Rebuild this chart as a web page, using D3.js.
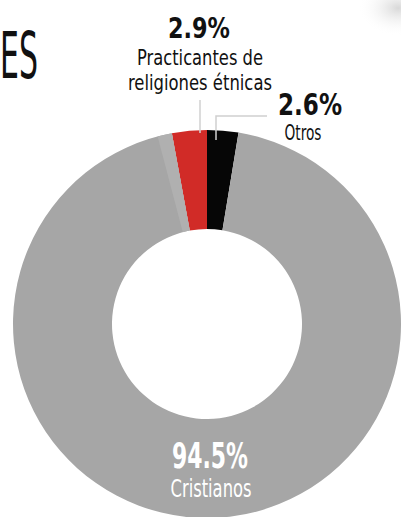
<!DOCTYPE html>
<html>
<head>
<meta charset="utf-8">
<script src="https://cdn.jsdelivr.net/npm/d3@7"></script>
<style>
  body { margin: 0; background: #fff; }
  svg { display: block; }
  text { font-family: "Liberation Sans Narrow", "DejaVu Sans Condensed", "Roboto", sans-serif; }
</style>
</head>
<body>
<div id="chart"></div>
<script>
// religion shares, in percent
const categories = ["Practicantes de religiones étnicas", "Otros", "Cristianos"];
const values = [2.9, 2.6, 94.5];
const pctLabels = ["2.9%", "2.6%", "94.5%"];

const W = 401, H = 517;
const cx = 207, cy = 324;
const outerR = 194, innerR = 95;

let svg = d3.select("div#chart")
    .append("svg")
    .attr("width", W)
    .attr("height", H);

// faint smudge in top-right corner
let defs = svg.append("defs");
let grad = defs.append("radialGradient").attr("id", "smudge");
grad.append("stop").attr("offset", "0%").attr("stop-color", "#d8d8d8");
grad.append("stop").attr("offset", "100%").attr("stop-color", "#fff").attr("stop-opacity", 0);
svg.append("ellipse")
    .attr("cx", 398).attr("cy", 8)
    .attr("rx", 40).attr("ry", 28)
    .attr("fill", "url(#smudge)");

let color = d3.scaleOrdinal()
    .domain(categories)
    .range(["#d12b27", "#060606", "#a6a6a6"]);

// red slice ends exactly at 12 o'clock, black starts there
let total = d3.sum(values);
let start = -values[0] / total * 2 * Math.PI;
let pie = d3.pie()
    .sort(null)
    .value(d => d.value)
    .startAngle(start)
    .endAngle(start + 2 * Math.PI);

let data = categories.map((c, i) => ({name: c, value: values[i], pct: pctLabels[i]}));
let arcs = pie(data);

let arc = d3.arc().innerRadius(innerR).outerRadius(outerR);

let g = svg.append("g").attr("transform", `translate(${cx},${cy})`);

g.selectAll("path")
    .data(arcs)
    .enter()
    .append("path")
    .attr("d", arc)
    .attr("fill", d => color(d.data.name));

// slightly lighter band left of the red slice
g.append("path")
    .attr("d", d3.arc().innerRadius(innerR).outerRadius(outerR)
        .startAngle(start - 0.075).endAngle(start)())
    .attr("fill", "#b0b0b0");

// leader lines
svg.append("line")
    .attr("x1", 200).attr("y1", 100)
    .attr("x2", 200).attr("y2", 133)
    .attr("stroke", "#d0d0d0").attr("stroke-width", 1.5);
svg.append("polyline")
    .attr("points", "216,140 216,116 267,116")
    .attr("fill", "none")
    .attr("stroke", "#d0d0d0").attr("stroke-width", 1.5);

function label(txt, x, y, size, width, fill, weight) {
    svg.append("text")
        .attr("x", x).attr("y", y)
        .attr("text-anchor", "middle")
        .style("font-size", size + "px")
        .style("font-weight", weight || "normal")
        .attr("fill", fill)
        .attr("textLength", width)
        .attr("lengthAdjust", "spacingAndGlyphs")
        .text(txt);
}

// cut-off title
svg.append("text")
    .attr("x", 0).attr("y", 78)
    .style("font-size", "64px")
    .attr("fill", "#111")
    .attr("textLength", 38)
    .attr("lengthAdjust", "spacingAndGlyphs")
    .text("ES");

// Practicantes
label(arcs[0].data.pct, 199, 38, 29, 62, "#111", "bold");
label("Practicantes de", 200, 65, 22, 126, "#111");
label("religiones étnicas", 200, 90, 22, 144, "#111");

// Otros
label(arcs[1].data.pct, 310, 115, 30, 64, "#111", "bold");
label("Otros", 303, 140, 22, 37, "#111");

// Cristianos, placed at bottom of the ring
let midR = (innerR + outerR) / 2;
label(arcs[2].data.pct, cx + 3, cy + midR - 1, 35, 76, "#fff", "bold");
label("Cristianos", cx + 4, cy + midR + 28, 25, 81, "#fff");
</script>
</body>
</html>
